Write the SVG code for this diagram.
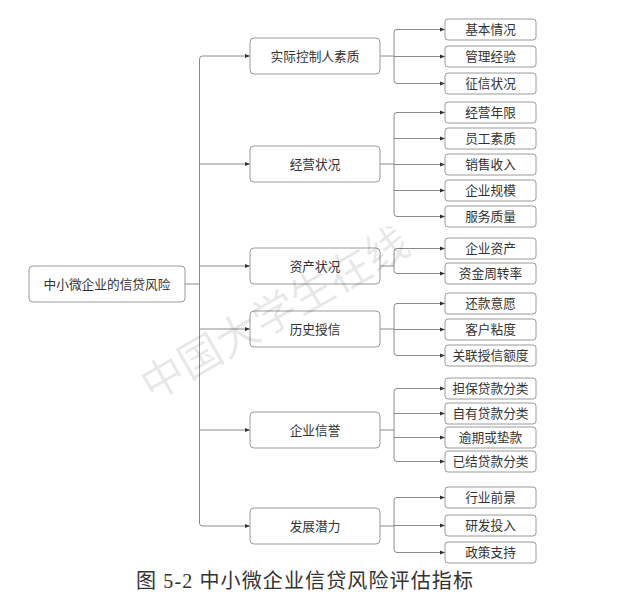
<svg xmlns="http://www.w3.org/2000/svg" width="628" height="611" viewBox="0 0 628 611">
<defs>
<style>
.box{fill:#fff;stroke:#9a9a9a;stroke-width:1}
.t{font-family:"Noto Sans CJK SC","Noto Sans",sans-serif;font-size:12.7px;fill:#333;text-anchor:middle}
.c{fill:none;stroke:#8a8a8a;stroke-width:1}
.a{marker-end:url(#ah)}
.wm{font-family:"Noto Sans CJK SC",sans-serif;font-size:43px;fill:#000;fill-opacity:0.09}
.cap{font-family:"Liberation Serif","Noto Sans CJK SC",serif;font-size:20px;fill:#333}
</style>
<marker id="ah" markerUnits="userSpaceOnUse" markerWidth="6" markerHeight="6" refX="5" refY="3" orient="auto">
<path d="M0,1 L5,3 L0,5 z" fill="#333"/>
</marker>
</defs>
<rect width="628" height="611" fill="#fff"/>

<g id="connectors">
<path class="c" d="M185,284 H199.5"/>
<path class="c a" d="M199.5,284 V59 Q199.5,56 202.5,56 H250"/>
<path class="c a" d="M199.5,164 H250"/>
<path class="c a" d="M199.5,266 H250"/>
<path class="c a" d="M199.5,329 H250"/>
<path class="c a" d="M199.5,430 H250"/>
<path class="c a" d="M199.5,284 V523 Q199.5,526 202.5,526 H250"/>

<path class="c" d="M380,56 H394"/>
<path class="c a" d="M394,56 V32.5 Q394,29.5 397,29.5 H445"/>
<path class="c a" d="M394,56.5 H445"/>
<path class="c a" d="M394,56 V80.5 Q394,83.5 397,83.5 H445"/>

<path class="c" d="M380,164 H394"/>
<path class="c a" d="M394,164 V115.5 Q394,112.5 397,112.5 H445"/>
<path class="c a" d="M394,138.5 H445"/>
<path class="c a" d="M394,164.5 H445"/>
<path class="c a" d="M394,190.5 H445"/>
<path class="c a" d="M394,164 V213.5 Q394,216.5 397,216.5 H445"/>

<path class="c" d="M380,266 H394"/>
<path class="c a" d="M394,266 V251.5 Q394,248.5 397,248.5 H445"/>
<path class="c a" d="M394,266 V270.5 Q394,273.5 397,273.5 H445"/>

<path class="c" d="M380,329 H394"/>
<path class="c a" d="M394,329 V306.5 Q394,303.5 397,303.5 H445"/>
<path class="c a" d="M394,329.5 H445"/>
<path class="c a" d="M394,329 V352.5 Q394,355.5 397,355.5 H445"/>

<path class="c" d="M380,430 H394"/>
<path class="c a" d="M394,430 V391.5 Q394,388.5 397,388.5 H445"/>
<path class="c a" d="M394,413.5 H445"/>
<path class="c a" d="M394,437.5 H445"/>
<path class="c a" d="M394,430 V458.5 Q394,461.5 397,461.5 H445"/>

<path class="c" d="M380,526 H394"/>
<path class="c a" d="M394,526 V500.5 Q394,497.5 397,497.5 H445"/>
<path class="c a" d="M394,525.5 H445"/>
<path class="c a" d="M394,526 V549.5 Q394,552.5 397,552.5 H445"/>
</g>

<g id="root"><rect class="box" x="29" y="266" width="156" height="36" rx="4"/><text class="t" x="107" y="288.5">中小微企业的信贷风险</text></g>

<g id="m1"><rect class="box" x="250" y="38" width="130" height="36" rx="4"/><text class="t" x="315" y="60.5">实际控制人素质</text></g>
<g id="m2"><rect class="box" x="250" y="146" width="130" height="36" rx="4"/><text class="t" x="315" y="168.5">经营状况</text></g>
<g id="m3"><rect class="box" x="250" y="248" width="130" height="36" rx="4"/><text class="t" x="315" y="270.5">资产状况</text></g>
<g id="m4"><rect class="box" x="250" y="311" width="130" height="36" rx="4"/><text class="t" x="315" y="333.5">历史授信</text></g>
<g id="m5"><rect class="box" x="250" y="412" width="130" height="36" rx="4"/><text class="t" x="315" y="434.5">企业信誉</text></g>
<g id="m6"><rect class="box" x="250" y="508" width="130" height="36" rx="4"/><text class="t" x="315" y="530.5">发展潜力</text></g>

<g id="l1"><rect class="box" x="445" y="19" width="91" height="21" rx="3"/><text class="t" x="490.5" y="34">基本情况</text></g>
<g id="l2"><rect class="box" x="445" y="46" width="91" height="21" rx="3"/><text class="t" x="490.5" y="61">管理经验</text></g>
<g id="l3"><rect class="box" x="445" y="73" width="91" height="21" rx="3"/><text class="t" x="490.5" y="88">征信状况</text></g>
<g id="l4"><rect class="box" x="445" y="102" width="91" height="21" rx="3"/><text class="t" x="490.5" y="117">经营年限</text></g>
<g id="l5"><rect class="box" x="445" y="128" width="91" height="21" rx="3"/><text class="t" x="490.5" y="143">员工素质</text></g>
<g id="l6"><rect class="box" x="445" y="154" width="91" height="21" rx="3"/><text class="t" x="490.5" y="169">销售收入</text></g>
<g id="l7"><rect class="box" x="445" y="180" width="91" height="21" rx="3"/><text class="t" x="490.5" y="195">企业规模</text></g>
<g id="l8"><rect class="box" x="445" y="206" width="91" height="21" rx="3"/><text class="t" x="490.5" y="221">服务质量</text></g>
<g id="l9"><rect class="box" x="445" y="238" width="91" height="21" rx="3"/><text class="t" x="490.5" y="253">企业资产</text></g>
<g id="l10"><rect class="box" x="445" y="263" width="91" height="21" rx="3"/><text class="t" x="490.5" y="278">资金周转率</text></g>
<g id="l11"><rect class="box" x="445" y="293" width="91" height="21" rx="3"/><text class="t" x="490.5" y="308">还款意愿</text></g>
<g id="l12"><rect class="box" x="445" y="319" width="91" height="21" rx="3"/><text class="t" x="490.5" y="334">客户粘度</text></g>
<g id="l13"><rect class="box" x="445" y="345" width="91" height="21" rx="3"/><text class="t" x="490.5" y="360">关联授信额度</text></g>
<g id="l14"><rect class="box" x="445" y="378" width="91" height="21" rx="3"/><text class="t" x="490.5" y="393">担保贷款分类</text></g>
<g id="l15"><rect class="box" x="445" y="403" width="91" height="21" rx="3"/><text class="t" x="490.5" y="418">自有贷款分类</text></g>
<g id="l16"><rect class="box" x="445" y="427" width="91" height="21" rx="3"/><text class="t" x="490.5" y="442">逾期或垫款</text></g>
<g id="l17"><rect class="box" x="445" y="451" width="91" height="21" rx="3"/><text class="t" x="490.5" y="466">已结贷款分类</text></g>
<g id="l18"><rect class="box" x="445" y="487" width="91" height="21" rx="3"/><text class="t" x="490.5" y="502">行业前景</text></g>
<g id="l19"><rect class="box" x="445" y="515" width="91" height="21" rx="3"/><text class="t" x="490.5" y="530">研发投入</text></g>
<g id="l20"><rect class="box" x="445" y="542" width="91" height="21" rx="3"/><text class="t" x="490.5" y="557">政策支持</text></g>

<text class="cap" x="136" y="588" textLength="337" lengthAdjust="spacing">图 5-2 中小微企业信贷风险评估指标</text>

<g id="watermark">
<text class="wm" transform="translate(152,402) rotate(-30)">中国大学生在线</text>
</g>
</svg>
